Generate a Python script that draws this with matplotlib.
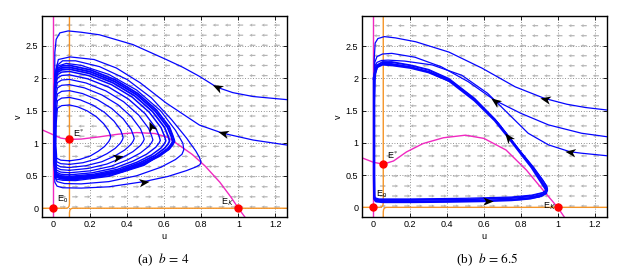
import numpy as np
import matplotlib
matplotlib.use("Agg")
import matplotlib.pyplot as plt
from matplotlib.markers import MarkerStyle
from matplotlib.path import Path
from matplotlib.transforms import Affine2D

# ---------------- data ----------------
x_ticks = [0, 0.2, 0.4, 0.6, 0.8, 1.0, 1.2]
x_tick_labels = ["0", "0.2", "0.4", "0.6", "0.8", "1", "1.2"]
y_ticks = [0, 0.5, 1.0, 1.5, 2.0, 2.5]
y_tick_labels = ["0", "0.5", "1", "1.5", "2", "2.5"]
captions = ["(a)  $b\\,=\\,4$", "(b)  $b\\,=\\,6.5$"]

# u-nullclines (pink)
pink_axis_u = [0.0, 0.0]
pink_axis_v = [-0.2, 3.0]
pink_a_u = [-0.063, 0.0, 0.04, 0.087, 0.15, 0.25, 0.35, 0.45, 0.55, 0.62, 0.68, 0.75, 0.82, 0.9, 0.96, 1.0, 1.035]
pink_a_v = [1.21, 1.13, 1.08, 1.06, 1.065, 1.10, 1.14, 1.165, 1.15, 1.09, 0.97, 0.83, 0.65, 0.40, 0.17, 0.0, -0.135]
pink_b_u = [-0.063, 0.0, 0.054, 0.11, 0.18, 0.27, 0.38, 0.5, 0.6, 0.72, 0.83, 0.92, 1.0, 1.036]
pink_b_v = [0.77, 0.70, 0.67, 0.72, 0.86, 0.99, 1.08, 1.12, 1.07, 0.89, 0.58, 0.27, 0.0, -0.15]

# v-nullclines (orange), two contour branches each
orange_a1_u = [0.087, 0.087, 0.085, 0.079, 0.07, -0.07]
orange_a1_v = [3.0, 0.07, 0.03, 0.008, 0.0, 0.0]
orange_a2_u = [0.087, 0.087, 0.089, 0.095, 0.104, 1.27]
orange_a2_v = [-0.2, -0.07, -0.03, -0.008, 0.0, 0.0]
orange_b1_u = [0.054, 0.054, 0.052, 0.046, 0.037, -0.07]
orange_b1_v = [3.0, 0.07, 0.03, 0.008, 0.0, 0.0]
orange_b2_u = [0.054, 0.054, 0.056, 0.062, 0.071, 1.27]
orange_b2_v = [-0.2, -0.07, -0.03, -0.008, 0.0, 0.0]

# equilibria E0, E*, EK
eq_a_u = [0.0, 0.087, 1.0]
eq_a_v = [0.0, 1.06, 0.0]
eq_b_u = [0.0, 0.054, 1.0]
eq_b_v = [0.0, 0.67, 0.0]
eq_names = ["E$_{\\mathsf{0}}$", "E$^{\\mathsf{*}}$", "E$_{\\mathsf{K}}$"]
eq_lab_a_u = [0.018, 0.105, 0.905]
eq_lab_a_v = [0.10, 1.10, 0.05]
eq_lab_b_u = [0.015, 0.073, 0.922]
eq_lab_b_v = [0.165, 0.744, -0.03]

# panel (a): loops of the spiral toward the limit cycle (inner -> outer)
cycle_a_u = [
    [0.087, 0.143, 0.199, 0.243, 0.277, 0.299, 0.307, 0.31, 0.307, 0.299, 0.272, 0.232, 0.184, 0.132, 0.087, 0.045, 0.022, 0.019, 0.015, 0.013, 0.013, 0.017, 0.018, 0.04, 0.087],
    [0.087, 0.160, 0.232, 0.290, 0.334, 0.363, 0.373, 0.377, 0.373, 0.363, 0.328, 0.276, 0.213, 0.145, 0.087, 0.045, 0.022, 0.018, 0.014, 0.012, 0.012, 0.016, 0.018, 0.04, 0.087],
    [0.087, 0.175, 0.262, 0.332, 0.385, 0.420, 0.432, 0.437, 0.432, 0.420, 0.378, 0.315, 0.239, 0.157, 0.087, 0.045, 0.022, 0.016, 0.012, 0.010, 0.010, 0.014, 0.018, 0.04, 0.087],
    [0.087, 0.188, 0.289, 0.370, 0.430, 0.471, 0.485, 0.491, 0.485, 0.471, 0.422, 0.350, 0.263, 0.168, 0.087, 0.045, 0.022, 0.015, 0.011, 0.009, 0.009, 0.013, 0.018, 0.04, 0.087],
    [0.087, 0.200, 0.313, 0.403, 0.470, 0.515, 0.531, 0.538, 0.531, 0.515, 0.461, 0.380, 0.283, 0.177, 0.087, 0.045, 0.022, 0.014, 0.010, 0.008, 0.008, 0.012, 0.018, 0.04, 0.087],
    [0.087, 0.210, 0.333, 0.431, 0.504, 0.553, 0.571, 0.578, 0.571, 0.553, 0.495, 0.406, 0.301, 0.185, 0.087, 0.045, 0.022, 0.013, 0.009, 0.007, 0.007, 0.011, 0.018, 0.04, 0.087],
    [0.087, 0.217, 0.348, 0.452, 0.530, 0.582, 0.600, 0.608, 0.600, 0.582, 0.519, 0.426, 0.314, 0.191, 0.087, 0.045, 0.022, 0.013, 0.009, 0.007, 0.007, 0.011, 0.018, 0.04, 0.087],
    [0.087, 0.222, 0.358, 0.466, 0.547, 0.601, 0.620, 0.628, 0.620, 0.601, 0.536, 0.439, 0.322, 0.195, 0.087, 0.045, 0.022, 0.012, 0.008, 0.006, 0.006, 0.010, 0.018, 0.04, 0.087],
    [0.087, 0.227, 0.366, 0.478, 0.561, 0.617, 0.637, 0.645, 0.637, 0.617, 0.550, 0.450, 0.330, 0.199, 0.087, 0.045, 0.022, 0.012, 0.008, 0.006, 0.006, 0.010, 0.018, 0.04, 0.087],
    [0.087, 0.229, 0.371, 0.485, 0.570, 0.627, 0.646, 0.655, 0.646, 0.627, 0.558, 0.456, 0.334, 0.201, 0.087, 0.045, 0.022, 0.011, 0.007, 0.005, 0.005, 0.009, 0.018, 0.04, 0.087],
]
cycle_a_v = [
    [0.73, 0.752, 0.804, 0.878, 0.952, 1.026, 1.07, 1.1, 1.134, 1.193, 1.301, 1.409, 1.497, 1.561, 1.59, 1.58, 1.54, 1.44, 1.29, 1.0, 0.98, 0.83, 0.77, 0.74, 0.73],
    [0.676, 0.701, 0.758, 0.840, 0.922, 1.004, 1.053, 1.086, 1.129, 1.204, 1.340, 1.477, 1.588, 1.669, 1.706, 1.696, 1.656, 1.556, 1.406, 1.0, 0.926, 0.776, 0.716, 0.686, 0.676],
    [0.627, 0.654, 0.716, 0.805, 0.895, 0.984, 1.037, 1.073, 1.125, 1.213, 1.375, 1.537, 1.670, 1.766, 1.81, 1.80, 1.76, 1.66, 1.51, 1.0, 0.877, 0.727, 0.667, 0.637, 0.627],
    [0.584, 0.613, 0.680, 0.775, 0.871, 0.966, 1.024, 1.062, 1.121, 1.222, 1.407, 1.592, 1.743, 1.853, 1.903, 1.893, 1.853, 1.753, 1.603, 1.0, 0.834, 0.684, 0.624, 0.594, 0.584],
    [0.546, 0.576, 0.647, 0.748, 0.850, 0.951, 1.012, 1.052, 1.117, 1.229, 1.434, 1.639, 1.807, 1.928, 1.984, 1.974, 1.934, 1.834, 1.684, 1.0, 0.796, 0.646, 0.586, 0.556, 0.546],
    [0.514, 0.546, 0.620, 0.726, 0.832, 0.938, 1.002, 1.044, 1.115, 1.236, 1.458, 1.680, 1.862, 1.993, 2.054, 2.044, 2.004, 1.904, 1.754, 1.0, 0.764, 0.614, 0.554, 0.524, 0.514],
    [0.49, 0.523, 0.600, 0.709, 0.819, 0.928, 0.994, 1.038, 1.113, 1.241, 1.476, 1.711, 1.903, 2.042, 2.106, 2.096, 2.056, 1.956, 1.806, 1.0, 0.74, 0.59, 0.53, 0.50, 0.49],
    [0.474, 0.508, 0.586, 0.698, 0.810, 0.922, 0.989, 1.034, 1.111, 1.244, 1.488, 1.731, 1.931, 2.075, 2.141, 2.131, 2.091, 1.991, 1.841, 1.0, 0.724, 0.574, 0.514, 0.484, 0.474],
    [0.46, 0.494, 0.574, 0.688, 0.802, 0.916, 0.984, 1.03, 1.110, 1.247, 1.497, 1.748, 1.953, 2.102, 2.17, 2.16, 2.12, 2.02, 1.87, 1.0, 0.71, 0.56, 0.50, 0.47, 0.46],
    [0.445, 0.480, 0.562, 0.679, 0.796, 0.913, 0.983, 1.03, 1.112, 1.252, 1.510, 1.767, 1.978, 2.130, 2.2, 2.19, 2.15, 2.05, 1.9, 1.0, 0.695, 0.545, 0.485, 0.455, 0.445],
]
cycle_a_lw = [0.9, 0.9, 0.9, 0.9, 0.9, 1.0, 1.1, 1.3, 1.4, 1.3]

# panel (a): trajectories entering from the right
traj_a1_u = [1.27, 1.08, 0.97, 0.883, 0.79, 0.7, 0.61, 0.43, 0.25, 0.15, 0.08, 0.035, 0.015, 0.008, 0.006, 0.006, 0.008, 0.02, 0.05, 0.15, 0.3, 0.49, 0.62, 0.72, 0.77, 0.792, 0.798, 0.79, 0.77, 0.72, 0.64, 0.53, 0.4, 0.25, 0.12, 0.05, 0.02, 0.008, 0.006, 0.006, 0.008, 0.015, 0.05, 0.12, 0.3, 0.49, 0.62, 0.655, 0.625]
traj_a1_v = [1.67, 1.72, 1.78, 1.864, 2.03, 2.17, 2.29, 2.52, 2.67, 2.71, 2.73, 2.7, 2.6, 2.4, 1.5, 0.6, 0.4, 0.34, 0.315, 0.31, 0.33, 0.41, 0.49, 0.58, 0.635, 0.67, 0.71, 0.78, 0.88, 1.08, 1.36, 1.7, 1.98, 2.18, 2.27, 2.27, 2.2, 2.0, 1.2, 0.6, 0.49, 0.45, 0.43, 0.425, 0.49, 0.66, 0.9, 1.03, 1.26]
traj_a2_u = [1.27, 1.08, 0.915, 0.79, 0.61, 0.47, 0.34, 0.22, 0.09, 0.027, 0.009, 0.006, 0.006, 0.008, 0.02, 0.06, 0.15, 0.3, 0.45, 0.58, 0.66, 0.695, 0.705, 0.7, 0.66, 0.58, 0.45, 0.3, 0.15, 0.07, 0.025, 0.008, 0.006, 0.007, 0.013, 0.05, 0.12, 0.3, 0.49, 0.62, 0.65]
traj_a2_v = [0.97, 1.05, 1.156, 1.28, 1.62, 1.93, 2.16, 2.29, 2.33, 2.29, 2.08, 1.5, 0.7, 0.5, 0.41, 0.38, 0.375, 0.41, 0.5, 0.63, 0.75, 0.83, 0.9, 1.0, 1.2, 1.5, 1.82, 2.06, 2.2, 2.23, 2.19, 2.0, 1.0, 0.6, 0.48, 0.45, 0.44, 0.5, 0.67, 0.9, 1.03]

# panel (b): thick limit cycle and trajectories
cycle_b_u = [0.004, 0.004, 0.006, 0.015, 0.05, 0.2, 0.4, 0.6, 0.75, 0.85, 0.91, 0.935, 0.94, 0.93, 0.905, 0.86, 0.8, 0.73, 0.66, 0.55, 0.41, 0.3, 0.2, 0.1, 0.05, 0.02, 0.008, 0.004]
cycle_b_v = [2.0, 0.5, 0.13, 0.095, 0.085, 0.085, 0.09, 0.1, 0.115, 0.14, 0.18, 0.22, 0.26, 0.31, 0.42, 0.62, 0.84, 1.1, 1.35, 1.66, 1.97, 2.1, 2.17, 2.21, 2.22, 2.18, 2.08, 2.0]
traj_b1_u = [1.27, 1.15, 1.05, 0.93, 0.77, 0.59, 0.41, 0.23, 0.12, 0.06, 0.025, 0.01, 0.005, 0.004, 0.004, 0.008, 0.03, 0.2, 0.5, 0.75, 0.87, 0.925, 0.945, 0.94, 0.92, 0.88, 0.82, 0.76, 0.68, 0.57, 0.43, 0.3, 0.2, 0.1, 0.05, 0.02, 0.007, 0.004, 0.005, 0.015, 0.05, 0.3, 0.6, 0.8, 0.9, 0.94]
traj_b1_v = [1.51, 1.55, 1.6, 1.69, 1.87, 2.16, 2.41, 2.57, 2.63, 2.65, 2.62, 2.55, 2.3, 1.0, 0.2, 0.13, 0.11, 0.11, 0.12, 0.14, 0.17, 0.21, 0.26, 0.33, 0.42, 0.57, 0.79, 1.0, 1.3, 1.62, 1.93, 2.1, 2.18, 2.23, 2.23, 2.17, 2.0, 1.0, 0.15, 0.1, 0.09, 0.09, 0.1, 0.12, 0.16, 0.22]
traj_b2_u = [1.27, 1.13, 0.95, 0.80, 0.66, 0.515, 0.37, 0.226, 0.1, 0.05, 0.02, 0.008, 0.005, 0.005, 0.008, 0.03, 0.2, 0.5, 0.75, 0.86, 0.915, 0.94, 0.935, 0.91, 0.865, 0.8, 0.73, 0.66, 0.55, 0.41, 0.3, 0.2, 0.1, 0.05, 0.02, 0.008, 0.005]
traj_b2_v = [1.095, 1.15, 1.28, 1.46, 1.66, 1.95, 2.18, 2.33, 2.39, 2.38, 2.34, 2.25, 1.5, 0.2, 0.14, 0.12, 0.12, 0.125, 0.15, 0.18, 0.22, 0.27, 0.32, 0.43, 0.61, 0.85, 1.11, 1.36, 1.68, 1.99, 2.13, 2.2, 2.25, 2.25, 2.2, 2.1, 1.5]
traj_b3_u = [1.27, 1.13, 1.067, 0.95, 0.84, 0.73, 0.62, 0.48, 0.32, 0.17, 0.08, 0.045, 0.02, 0.01, 0.005, 0.005, 0.008, 0.03, 0.2, 0.5, 0.75, 0.86, 0.92, 0.945, 0.94, 0.915, 0.87, 0.8, 0.73, 0.66, 0.55, 0.41, 0.3, 0.2, 0.1, 0.05, 0.02, 0.008, 0.005]
traj_b3_v = [0.80, 0.84, 0.863, 0.97, 1.15, 1.46, 1.77, 2.05, 2.21, 2.27, 2.285, 2.28, 2.25, 2.2, 2.0, 0.2, 0.15, 0.13, 0.13, 0.14, 0.16, 0.19, 0.23, 0.28, 0.33, 0.44, 0.62, 0.86, 1.12, 1.37, 1.69, 2.0, 2.14, 2.21, 2.26, 2.26, 2.21, 2.1, 1.5]

# direction arrows on trajectories: position and tangent
arrow_a_u = [0.883, 0.915, 0.49, 0.351, 0.53]
arrow_a_v = [1.864, 1.156, 0.41, 0.786, 1.27]
arrow_a_du = [-0.18, -0.29, 0.2, 0.1, -0.03]
arrow_a_dv = [0.25, 0.23, 0.08, 0.07, 0.2]
arrow_b_u = [0.931, 0.66, 1.067, 0.732, 0.624]
arrow_b_v = [1.679, 1.65, 0.863, 1.095, 0.095]
arrow_b_du = [-0.16, -0.14, -0.1, -0.06, 0.2]
arrow_b_dv = [0.1, 0.29, 0.04, 0.22, 0.004]

# direction field: rows where arrows point right (u between lo and hi)
quiver_rows_v = [0.02, 0.176, 0.331, 0.487, 0.642, 0.798, 0.953, 1.109, 1.264, 1.42, 1.576, 1.731, 1.887, 2.042, 2.198, 2.353, 2.509, 2.664, 2.82]
quiver_cols_u = [0.036, 0.102, 0.168, 0.234, 0.3, 0.366, 0.432, 0.498, 0.564, 0.63, 0.696, 0.762, 0.828, 0.894, 0.96, 1.026, 1.092, 1.158, 1.224]
right_a_lo = [0, 0, 0, 0, 0, 0, 0, 0.25] + [9] * 11
right_a_hi = [1.0, 0.96, 0.92, 0.87, 0.83, 0.77, 0.69, 0.6] + [-9] * 11
right_b_lo = [0, 0, 0, 0, 0, 0.14, 0.24, 0.46] + [9] * 11
right_b_hi = [1.0, 0.95, 0.9, 0.86, 0.81, 0.75, 0.7, 0.53] + [-9] * 11

# ---------------- styling ----------------
plt.rcParams["mathtext.fontset"] = "stix"
plt.rcParams["font.family"] = ["Liberation Sans", "DejaVu Sans"]
BLUE = "#0505ff"
PINK = "#f028c0"
ORANGE = "#f59528"
GREY = "#b4b4b4"

fig = plt.figure(figsize=(6.35, 2.72), dpi=100)
ax_a = fig.add_axes([0.0657, 0.2022, 0.3863, 0.739])
ax_b = fig.add_axes([0.5696, 0.2022, 0.3858, 0.739])

chevron = Path([(1.0, 0.0), (-1.0, 0.8), (-0.45, 0.0), (-1.0, -0.8), (1.0, 0.0)],
               [Path.MOVETO, Path.LINETO, Path.LINETO, Path.LINETO, Path.CLOSEPOLY])


def panel(ax, xlim, ylim, pink_u, pink_v, oranges, loops, loop_lw, trajs, thick,
          eq_u, eq_v, lab_u, lab_v, arr, right_lo, right_hi, caption, cx):
    ax.set_xlim(*xlim)
    ax.set_ylim(*ylim)
    # direction field
    U, V = np.meshgrid(quiver_cols_u, quiver_rows_v)
    lo = np.array(right_lo)[:, None]
    hi = np.array(right_hi)[:, None]
    D = np.where((U >= lo) & (U <= hi), 1.0, -1.0)
    ax.quiver(U, V, D, np.zeros_like(D), color=GREY, angles="xy",
              scale_units="inches", scale=1 / 0.062, units="inches",
              width=0.012, headwidth=2.6, headlength=2.6, headaxislength=2.3,
              pivot="tail", zorder=1)
    # nullclines
    ax.plot(pink_axis_u, pink_axis_v, color=PINK, lw=1.0, zorder=2)
    ax.plot(pink_u, pink_v, color=PINK, lw=1.0, zorder=2)
    for ou, ov in oranges:
        ax.plot(ou, ov, color=ORANGE, lw=1.0, zorder=2)
    # trajectories
    for (lu, lv), lw in zip(loops, loop_lw):
        ax.plot(lu, lv, color=BLUE, lw=lw, zorder=3, solid_joinstyle="round")
    for tu, tv in trajs:
        ax.plot(tu, tv, color=BLUE, lw=0.9, zorder=3, solid_joinstyle="round")
    if thick is not None:
        ax.plot(thick[0], thick[1], color=BLUE, lw=1.9, zorder=3,
                solid_joinstyle="round")
    # equilibria
    ax.plot(eq_u, eq_v, "o", color="#ff0000", ms=5, mec="#ff0000", zorder=5,
            clip_on=False)
    for name, x, y in zip(eq_names, lab_u, lab_v):
        ax.text(x, y, name, fontsize=6.5, ha="left", va="baseline", zorder=7)
    # arrows on trajectories
    au, av, adu, adv = arr
    for x, y, dx, dy in zip(au, av, adu, adv):
        p0 = ax.transData.transform((x, y))
        p1 = ax.transData.transform((x + dx, y + dy))
        ang = np.degrees(np.arctan2(p1[1] - p0[1], p1[0] - p0[0]))
        m = MarkerStyle(chevron, transform=Affine2D().rotate_deg(ang))
        ax.plot([x], [y], marker=m, color="k", ms=7.5, mew=0, zorder=6)
    # axes cosmetics
    ax.set_xticks(x_ticks)
    ax.set_xticklabels(x_tick_labels)
    ax.set_yticks(y_ticks)
    ax.set_yticklabels(y_tick_labels)
    ax.tick_params(direction="in", length=3, width=0.6, labelsize=6.5, pad=2.5,
                   top=True, right=True, labeltop=False, labelright=False)
    ax.grid(True, linestyle=(0, (1, 2.2)), color="#707070", lw=0.6)
    ax.set_axisbelow(True)
    for s in ax.spines.values():
        s.set_linewidth(1.0)
    ax.set_xlabel("u", fontsize=6.5, labelpad=1.5)
    ax.set_ylabel("v", fontsize=6.5, labelpad=2)
    fig.text(cx, 0.045, caption, ha="center", va="center", fontsize=9.5,
             family="Liberation Serif")


panel(ax_a, (-0.063, 1.263), (-0.135, 2.96), pink_a_u, pink_a_v,
      [(orange_a1_u, orange_a1_v), (orange_a2_u, orange_a2_v)],
      list(zip(cycle_a_u, cycle_a_v)), cycle_a_lw,
      [(traj_a1_u, traj_a1_v), (traj_a2_u, traj_a2_v)], None,
      eq_a_u, eq_a_v, eq_lab_a_u, eq_lab_a_v,
      (arrow_a_u, arrow_a_v, arrow_a_du, arrow_a_dv),
      right_a_lo, right_a_hi, captions[0], 0.257)

panel(ax_b, (-0.063, 1.266), (-0.15, 2.97), pink_b_u, pink_b_v,
      [(orange_b1_u, orange_b1_v), (orange_b2_u, orange_b2_v)],
      [], [],
      [(traj_b1_u, traj_b1_v), (traj_b2_u, traj_b2_v), (traj_b3_u, traj_b3_v)],
      (cycle_b_u, cycle_b_v),
      eq_b_u, eq_b_v, eq_lab_b_u, eq_lab_b_v,
      (arrow_b_u, arrow_b_v, arrow_b_du, arrow_b_dv),
      right_b_lo, right_b_hi, captions[1], 0.768)

fig.savefig("out.png", dpi=100)
